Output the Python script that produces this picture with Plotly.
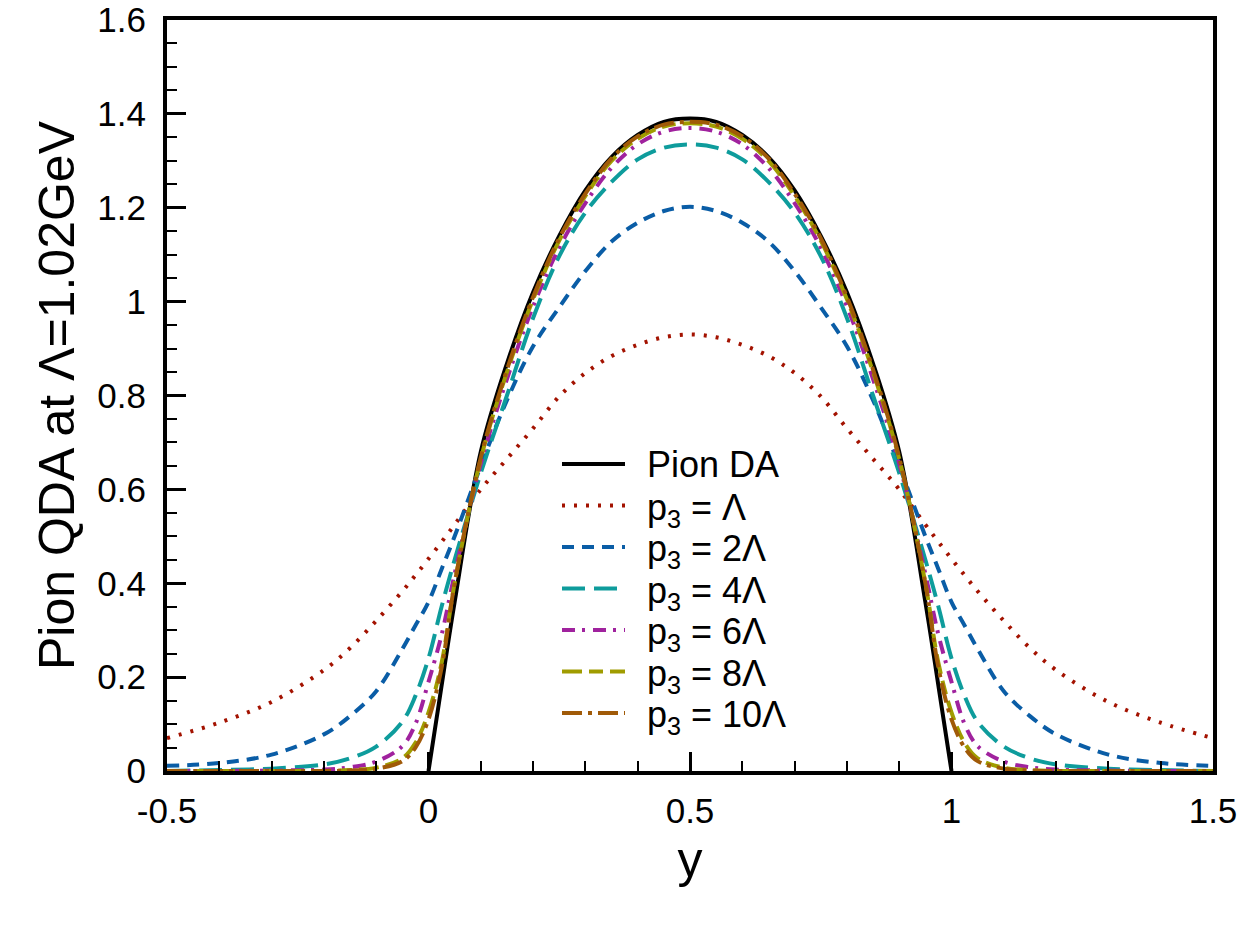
import plotly.graph_objects as go

# ---- data ----
x_da = [0.0, 0.02, 0.05, 0.1, 0.15, 0.2, 0.25, 0.3, 0.35, 0.4, 0.45, 0.5,
        0.55, 0.6, 0.65, 0.7, 0.75, 0.8, 0.85, 0.9, 0.95, 0.98, 1.0]
pion_da = [0.0, 0.145, 0.36, 0.68, 0.868, 1.02, 1.14, 1.237, 1.308, 1.355, 1.383, 1.39,
           1.383, 1.355, 1.308, 1.237, 1.14, 1.02, 0.868, 0.68, 0.36, 0.145, 0.0]

x_q = [-0.5, -0.4, -0.3, -0.2, -0.15, -0.1, -0.05, -0.025, 0.0, 0.025, 0.05, 0.1, 0.15, 0.2,
       0.25, 0.3, 0.35, 0.4, 0.45, 0.5, 0.55, 0.6, 0.65, 0.7, 0.75, 0.8, 0.85, 0.9,
       0.95, 0.975, 1.0, 1.025, 1.05, 1.1, 1.15, 1.2, 1.3, 1.4, 1.5]

p3_1 = [0.07, 0.103, 0.147, 0.215, 0.262, 0.32, 0.383, 0.417, 0.452, 0.488, 0.525, 0.60, 0.665, 0.73,
        0.798, 0.848, 0.884, 0.908, 0.924, 0.93, 0.924, 0.908, 0.884, 0.848, 0.798, 0.73, 0.665, 0.60,
        0.525, 0.488, 0.452, 0.417, 0.383, 0.32, 0.262, 0.215, 0.147, 0.103, 0.07]
p3_2 = [0.011, 0.017, 0.035, 0.078, 0.117, 0.17, 0.26, 0.31, 0.36, 0.43, 0.50, 0.65, 0.79, 0.905,
        0.988, 1.065, 1.128, 1.168, 1.193, 1.202, 1.193, 1.168, 1.128, 1.065, 0.988, 0.905, 0.79, 0.65,
        0.50, 0.43, 0.36, 0.31, 0.26, 0.17, 0.117, 0.078, 0.035, 0.017, 0.011]
p3_4 = [0.0, 0.002, 0.005, 0.014, 0.027, 0.052, 0.105, 0.16, 0.24, 0.35, 0.45, 0.635, 0.80, 0.965,
        1.097, 1.19, 1.255, 1.303, 1.328, 1.335, 1.328, 1.303, 1.255, 1.19, 1.097, 0.965, 0.80, 0.635,
        0.45, 0.35, 0.24, 0.16, 0.105, 0.052, 0.027, 0.014, 0.005, 0.002, 0.0]
p3_6 = [0.0, 0.0, 0.001, 0.003, 0.008, 0.02, 0.053, 0.10, 0.19, 0.29, 0.42, 0.655, 0.835, 0.99,
        1.115, 1.21, 1.285, 1.335, 1.362, 1.37, 1.362, 1.335, 1.285, 1.21, 1.115, 0.99, 0.835, 0.655,
        0.42, 0.29, 0.19, 0.10, 0.053, 0.02, 0.008, 0.003, 0.001, 0.0, 0.0]
p3_8 = [0.0, 0.0, 0.0, 0.0, 0.002, 0.007, 0.027, 0.06, 0.125, 0.23, 0.40, 0.665, 0.85, 1.005,
        1.13, 1.225, 1.30, 1.347, 1.373, 1.38, 1.373, 1.347, 1.30, 1.225, 1.13, 1.005, 0.85, 0.665,
        0.40, 0.23, 0.125, 0.06, 0.027, 0.007, 0.002, 0.0, 0.0, 0.0, 0.0]
p3_10 = [0.0, 0.0, 0.0, 0.0, 0.001, 0.005, 0.021, 0.05, 0.11, 0.22, 0.40, 0.668, 0.855, 1.01,
         1.135, 1.23, 1.305, 1.352, 1.377, 1.383, 1.377, 1.352, 1.305, 1.23, 1.135, 1.01, 0.855, 0.668,
         0.40, 0.22, 0.11, 0.05, 0.021, 0.005, 0.001, 0.0, 0.0, 0.0, 0.0]

names = ["Pion DA", "p<sub>3</sub> = Λ", "p<sub>3</sub> = 2Λ", "p<sub>3</sub> = 4Λ",
         "p<sub>3</sub> = 6Λ", "p<sub>3</sub> = 8Λ", "p<sub>3</sub> = 10Λ"]

x_major = [-0.5, 0, 0.5, 1, 1.5]
x_labels = ["-0.5", "0", "0.5", "1", "1.5"]
y_major = [0, 0.2, 0.4, 0.6, 0.8, 1.0, 1.2, 1.4, 1.6]
y_labels = ["0", "0.2", "0.4", "0.6", "0.8", "1", "1.2", "1.4", "1.6"]

styles = [
    ("black", "solid"),
    ("#a31200", "3px,9px"),
    ("#0a5da6", "12px,8px"),
    ("#0e9c9c", "23px,9px"),
    ("#a0229e", "13px,7px,3px,8px"),
    ("#a09c00", "20px,7px,14px,7px"),
    ("#a05a08", "20px,6px,4px,6px"),
]
series = [pion_da, p3_1, p3_2, p3_4, p3_6, p3_8, p3_10]
xs = [x_da] + [x_q] * 6

fig = go.Figure()
for i in range(7):
    col, dash = styles[i]
    fig.add_trace(go.Scatter(x=xs[i], y=series[i], mode="lines", name=names[i], showlegend=False,
                             line=dict(color=col, width=4, dash=dash, shape="spline", smoothing=1.0)))

# ---- legend drawn as line samples + text (paper coordinates) ----
H_TOP, H_PLOT = 20, 751
L_LEFT, W_PLOT = 167, 1046
def px2x(p): return (p - L_LEFT) / W_PLOT
def py2y(p): return (H_TOP + H_PLOT - p) / H_PLOT

row0, row_step = 464, 41.5
for i in range(7):
    yc = row0 + row_step * i
    col, dash = styles[i]
    fig.add_shape(type="line", xref="paper", yref="paper",
                  x0=px2x(562), x1=px2x(625), y0=py2y(yc), y1=py2y(yc),
                  line=dict(color=col, width=4, dash=dash))
    off = 0 if i == 0 else 4
    fig.add_annotation(xref="paper", yref="paper", x=px2x(645), y=py2y(yc + off),
                       xanchor="left", yanchor="middle", text=names[i], showarrow=False,
                       font=dict(size=36, color="black"))

font_family = "Liberation Sans, Arial, sans-serif"
fig.update_layout(
    width=1255, height=940,
    margin=dict(l=167, r=42, t=20, b=169),
    paper_bgcolor="white", plot_bgcolor="white",
    font=dict(family=font_family, color="black", size=35),
    showlegend=False,
    xaxis=dict(range=[-0.5, 1.5], showline=True, linecolor="black", linewidth=4, mirror=True,
               automargin=False,
               showgrid=False, zeroline=False, ticks="inside", ticklen=19, tickwidth=3,
               tickcolor="black", tickvals=x_major, ticktext=x_labels,
               tickfont=dict(size=35), ticklabelstandoff=6,
               minor=dict(dtick=0.1, ticks="inside", ticklen=10, tickwidth=2, tickcolor="black",
                          showgrid=False),
               title=dict(text="y", font=dict(size=50), standoff=14)),
    yaxis=dict(range=[0, 1.6], showline=True, linecolor="black", linewidth=4, mirror=True,
               automargin=False,
               showgrid=False, zeroline=False, ticks="inside", ticklen=19, tickwidth=3,
               tickcolor="black", tickvals=y_major, ticktext=y_labels,
               tickfont=dict(size=35), ticklabelstandoff=10,
               minor=dict(dtick=0.05, ticks="inside", ticklen=10, tickwidth=2, tickcolor="black",
                          showgrid=False),
               title=dict(text="Pion QDA at Λ=1.02GeV", font=dict(size=50), standoff=8)),
)

fig.write_html("out.html")
